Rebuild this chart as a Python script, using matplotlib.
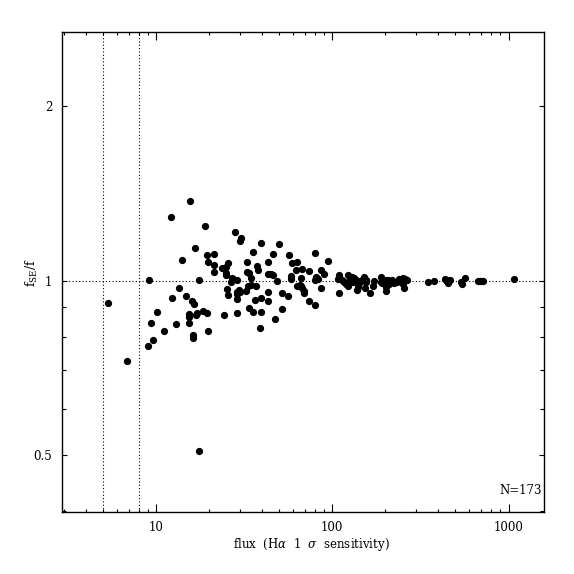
import numpy as np
import matplotlib
matplotlib.use("Agg")
from matplotlib import pyplot as plt
from matplotlib.ticker import FixedLocator, NullFormatter

plt.rcParams['font.family'] = ['DejaVu Serif']
plt.rcParams['mathtext.fontset'] = 'dejavuserif'

# flux (in units of the 1 sigma H-alpha sensitivity)
flux = [
    15.59, 12.16, 18.96, 16.64, 14.10, 9.13, 17.47, 5.36, 13.45, 12.27,
    14.85, 16.00, 16.49, 10.17, 18.40, 17.08, 15.33, 16.93, 15.33, 9.40,
    12.93, 15.33, 11.14, 16.15, 16.15, 9.65, 8.97, 6.85, 17.60,
    28.17, 30.34, 29.83, 39.56, 50.03, 19.54, 21.32, 35.35, 45.90, 56.56,
    19.80, 21.32, 25.70, 32.95, 43.00, 59.29, 63.29, 23.58, 24.84, 37.40,
    21.32, 24.94, 25.04, 32.69, 33.68, 38.03, 61.97, 43.34, 44.72, 46.26,
    34.71, 58.30, 58.30, 27.23, 28.80, 26.62, 48.36, 62.79, 65.30, 34.57,
    33.38, 37.05, 25.17, 29.68, 30.07, 28.91, 28.69, 32.52, 25.60, 43.34,
    52.03, 56.27, 39.56, 36.43, 28.69, 43.00, 19.54, 24.30, 28.69, 33.55,
    35.35, 39.56, 52.03, 47.49, 19.80, 39.04,
    79.73, 94.12, 67.03, 73.45, 85.91, 89.34, 66.42, 80.78, 82.60, 79.73,
    66.42, 67.56, 69.07, 69.07, 85.91, 73.45, 79.73,
    109.5, 107.3, 113.0, 116.9, 119.1, 122.2, 123.2, 128.8, 132.7, 136.2,
    137.5, 139.3, 138.0, 144.1, 148.7, 151.8, 154.6, 155.2, 153.2, 163.6,
    172.3, 170.8, 188.1, 188.8, 192.1, 201.5, 201.5, 201.5, 206.1, 209.6,
    218.8, 224.6, 108.7,
    239.8, 250.6, 258.3, 266.1, 252.6, 254.9, 233.6, 350.2, 377.2, 435.5,
    445.3, 454.6, 464.9, 534.6, 541.6, 565.5, 672.8, 694.2, 712.5, 1076.0,
    125.0, 142.0, 198.0, 440.0, 247.0, 27.0, 131.0, 690.0,
]

# f_SE / f ratio for each source
ratio = [
    1.373, 1.288, 1.242, 1.137, 1.085, 1.002, 1.002, 0.916, 0.972, 0.933,
    0.941, 0.922, 0.910, 0.884, 0.886, 0.880, 0.874, 0.871, 0.864, 0.845,
    0.840, 0.844, 0.817, 0.806, 0.797, 0.789, 0.770, 0.727, 0.507,
    1.212, 1.184, 1.171, 1.161, 1.155, 1.108, 1.110, 1.119, 1.112, 1.105,
    1.076, 1.062, 1.073, 1.075, 1.076, 1.072, 1.076, 1.052, 1.054, 1.058,
    1.036, 1.029, 1.022, 1.033, 1.030, 1.043, 1.041, 1.027, 1.026, 1.022,
    1.011, 1.019, 1.005, 1.005, 1.002, 0.995, 0.997, 0.977, 0.982, 0.982,
    0.978, 0.978, 0.967, 0.963, 0.956, 0.948, 0.955, 0.958, 0.943, 0.954,
    0.952, 0.941, 0.934, 0.926, 0.929, 0.921, 0.879, 0.871, 0.880, 0.897,
    0.882, 0.882, 0.894, 0.859, 0.819, 0.828,
    1.117, 1.081, 1.047, 1.040, 1.041, 1.026, 1.010, 1.013, 1.005, 1.002,
    0.980, 0.970, 0.959, 0.950, 0.971, 0.921, 0.908,
    1.023, 1.005, 1.002, 0.995, 0.986, 0.980, 1.022, 1.015, 1.009, 1.002,
    0.989, 0.976, 0.964, 0.995, 1.005, 1.015, 1.002, 0.993, 0.971, 0.952,
    0.999, 0.978, 1.015, 0.995, 0.989, 0.995, 0.976, 0.959, 1.002, 0.986,
    1.002, 0.989, 0.950,
    1.006, 1.011, 1.006, 1.002, 0.985, 0.972, 0.993, 0.993, 0.999, 1.005,
    0.998, 0.991, 1.002, 0.995, 0.985, 1.011, 0.998, 0.998, 0.998, 1.005,
    1.000, 0.998, 1.004, 1.001, 1.003, 1.012, 0.993, 1.000,
]

cut_lines = [5, 8]       # vertical dotted lines
x_limits = (2.93, 1580)
y_limits = (0.398, 2.69)
x_major = [10, 100, 1000]
x_major_labels = ["10", "100", "1000"]
x_minor = [3, 4, 5, 6, 7, 8, 9, 20, 30, 40, 50, 60, 70, 80, 90,
           200, 300, 400, 500, 600, 700, 800, 900]
y_major = [0.5, 1, 2]
y_major_labels = ["0.5", "1", "2"]
y_minor = [0.4, 0.6, 0.7, 0.8, 0.9]

fig = plt.figure(figsize=(5.74, 5.74), dpi=100)
ax = fig.add_axes([0.108, 0.1075, 0.839, 0.8373])

ax.set_xscale("log")
ax.set_yscale("log")

dots = (0, (1, 2))
ax.axhline(1.0, color="k", lw=0.8, ls=dots, zorder=1)
for c in cut_lines:
    ax.axvline(c, color="k", lw=0.8, ls=dots, zorder=1)

ax.plot(flux, ratio, "o", color="k", ms=4.2, mec="k", zorder=3)

ax.set_xlim(*x_limits)
ax.set_ylim(*y_limits)

ax.xaxis.set_major_locator(FixedLocator(x_major))
ax.set_xticklabels(x_major_labels)
ax.xaxis.set_minor_locator(FixedLocator(x_minor))
ax.xaxis.set_minor_formatter(NullFormatter())

ax.yaxis.set_major_locator(FixedLocator(y_major))
ax.set_yticklabels(y_major_labels)
ax.yaxis.set_minor_locator(FixedLocator(y_minor))
ax.yaxis.set_minor_formatter(NullFormatter())

ax.tick_params(axis="both", which="both", direction="in",
               top=True, right=True, labelsize=8.5, width=0.8)
ax.tick_params(axis="x", which="major", length=5.5, pad=6)
ax.tick_params(axis="x", which="minor", length=2.5)
ax.tick_params(axis="y", which="major", length=3.3, pad=7)
ax.tick_params(axis="y", which="minor", length=3.0)

for s in ax.spines.values():
    s.set_linewidth(1.0)

ax.set_xlabel(r"flux  (H$\alpha$  1  $\sigma$  sensitivity)", fontsize=8.5)
ax.xaxis.set_label_coords(0.518, -0.05)
ax.set_ylabel(r"f$_{\rm SE}$/f", fontsize=9)
ax.yaxis.set_label_coords(-0.046, 0.5)

ax.text(0.996, 0.046, "N=173", transform=ax.transAxes,
        ha="right", va="center", fontsize=8.5)

fig.savefig("out.png", dpi=100)
